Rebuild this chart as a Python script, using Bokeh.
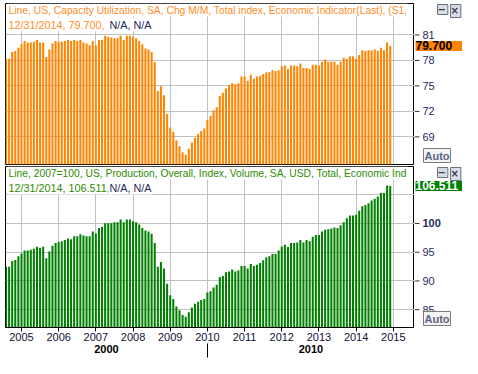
import pandas as pd
from bokeh.plotting import figure
from bokeh.layouts import column, row
from bokeh.models import Range1d, LinearAxis, FixedTicker, Grid, Label
from bokeh.core.properties import value
from bokeh.embed import file_html
from bokeh.resources import INLINE

# ---------------- data ----------------
months = pd.date_range("2004-08-01", "2014-12-01", freq="MS")
x_years = list(months.year + (months.month - 1) / 12.0)

capacity_util = [
    78.2, 78.2, 79.0, 79.1, 79.5,
    79.9, 80.3, 80.1, 80.1, 80.2, 80.4, 80.1, 80.1, 78.4, 79.3, 80.0, 80.3,
    80.2, 80.2, 80.3, 80.4, 80.3, 80.4, 80.3, 80.4, 80.1, 80.0, 79.8, 80.3,
    79.8, 80.4, 80.4, 80.9, 80.8, 80.7, 80.6, 80.6, 80.9, 80.4, 80.9, 80.9,
    80.8, 80.6, 80.3, 79.9, 79.4, 79.3, 79.0, 77.8, 74.4, 74.95, 73.9, 71.7,
    70.1, 69.6, 68.6, 67.9, 67.2, 66.9, 67.6, 68.35, 68.9, 69.35, 69.7, 70.0,
    71.0, 71.5, 72.15, 72.5, 73.8, 74.2, 74.7, 75.1, 75.3, 75.2, 75.3, 76.1,
    76.1, 75.6, 76.3, 75.85, 76.1, 76.2, 76.4, 76.6, 76.6, 76.85, 76.75, 76.85,
    77.3, 77.4, 77.0, 77.4, 77.4, 77.3, 77.65, 77.1, 77.1, 77.0, 77.5, 77.5,
    77.4, 77.85, 78.1, 77.85, 77.85, 77.85, 77.5, 77.85, 78.3, 78.2, 78.5, 78.5,
    78.2, 78.65, 79.2, 79.1, 79.2, 79.2, 79.3, 79.1, 79.5, 79.2, 80.1, 79.7,
]

production = [
    92.47, 92.47, 93.46, 93.62, 94.28,
    94.78, 95.27, 95.27, 95.44, 95.6, 95.93, 95.77, 95.93, 93.95, 95.1, 96.1, 96.6,
    96.75, 96.9, 97.1, 97.4, 97.25, 97.75, 97.75, 98.1, 97.9, 97.75, 97.75, 98.6,
    98.25, 99.2, 99.4, 100.05, 100.05, 100.05, 100.2, 100.2, 100.7, 100.2, 100.7, 100.7,
    100.4, 100.2, 99.8, 99.2, 98.75, 98.6, 98.2, 96.6, 92.47, 93.3, 92.15, 89.5,
    87.5, 86.87, 85.55, 84.9, 84.07, 83.75, 84.56, 85.4, 86.05, 86.4, 86.7, 86.87,
    88.0, 88.2, 88.85, 89.35, 90.7, 90.85, 91.5, 91.65, 92.0, 91.65, 91.8, 92.6,
    92.6, 92.15, 92.95, 92.6, 92.8, 93.1, 93.6, 94.1, 94.3, 94.7, 94.7, 95.3,
    96.0, 96.3, 95.9, 96.6, 96.6, 96.7, 97.1, 96.7, 97.1, 96.9, 97.7, 98.0,
    98.0, 98.6, 98.9, 99.0, 99.1, 99.3, 99.2, 99.7, 100.2, 100.9, 101.4, 101.4,
    101.5, 102.2, 103.0, 103.2, 103.5, 104.0, 104.3, 104.7, 105.3, 105.3, 106.6, 106.511,
]

year_ticks = list(range(2005, 2016))
cap_ticks = [69, 72, 75, 78, 81]
prod_ticks = [85, 90, 95, 100]
prod_grid = [85, 90, 95, 100, 105]
decade_labels = {2007.285: "2000", 2012.785: "2010"}
decade_split = [2010]

cap_title = "Line, US, Capacity Utilization, SA, Chg M/M, Total index, Economic Indicator(Last), (S1,"
cap_sub = "12/31/2014, 79.700, "
prod_title = "Line, 2007=100, US, Production, Overall, Index, Volume, SA, USD, Total, Economic Ind"
prod_sub = "12/31/2014, 106.511, "
na_text = "N/A, N/A"

# ---------------- style ----------------
FONT = "Liberation Sans"
ORANGE = "#FF8400"
ORANGE_TXT = "#FF8C1F"
GREEN = "#008000"
GREEN_TXT = "#2E8B00"
NAVY = "#1F2A5C"
GRID = "#C0C0C0"
MAIN_W = 414
SIDE_W = 48
TOP_H = 165
BOT_H = 193
BOT_AXIS = 31

xr = Range1d(2004.57, 2015.57)


def main_panel(height, yr, grid_ticks, top_b, bottom_b):
    p = figure(width=MAIN_W, height=height, x_range=xr, y_range=yr,
               x_axis_type=None, y_axis_type=None,
               output_backend="svg", toolbar_location=None,
               min_border=0, min_border_left=5, min_border_right=0,
               min_border_top=top_b, min_border_bottom=bottom_b,
               background_fill_color="white", border_fill_color="white",
               outline_line_color="black", outline_line_width=1)
    p.add_layout(Grid(dimension=0, ticker=FixedTicker(ticks=year_ticks),
                      grid_line_color=GRID, grid_line_width=1))
    p.add_layout(Grid(dimension=1, ticker=FixedTicker(ticks=grid_ticks),
                      grid_line_color=GRID, grid_line_width=1))
    return p


def side_panel(height, yr, ticks, bold_ticks, top_b, bottom_b, val, val_text,
               box_color, box_text_color):
    s = figure(width=SIDE_W, height=height, x_range=Range1d(0, SIDE_W), y_range=yr,
               x_axis_type=None, y_axis_type=None,
               output_backend="svg", toolbar_location=None,
               min_border=0, min_border_top=top_b, min_border_bottom=bottom_b,
               background_fill_color="white", border_fill_color="white",
               outline_line_color=None)
    s.segment(x0=0, x1=5, y0=ticks, y1=ticks, line_color="#333333", line_width=1)
    normal = [t for t in ticks if t not in bold_ticks]
    s.text(x=8, y=normal, text=[str(t) for t in normal], text_baseline="middle",
           text_align="left", text_font=value(FONT), text_font_size="11px",
           text_color=NAVY)
    if bold_ticks:
        s.text(x=8, y=bold_ticks, text=[str(t) for t in bold_ticks], text_baseline="middle",
               text_align="left", text_font=value(FONT), text_font_size="11px",
               text_font_style="bold", text_color=NAVY)
    s.add_layout(Label(x=1, y=val, text=val_text,
                       text_baseline="middle", text_align="left",
                       text_font=FONT, text_font_size="12px", text_font_style="bold",
                       text_color=box_text_color, background_fill_color=box_color,
                       padding=(0, 14, 0, 1)))
    s.add_layout(Label(x=9, y=yr.start, y_offset=2, text="Auto",
                       text_baseline="bottom", text_align="left",
                       text_font=FONT, text_font_size="11px", text_font_style="bold",
                       text_color="#5A6482", background_fill_color="#F4F4F4",
                       border_line_color="#7A7A7A", padding=1))
    for xo, sym in ((23, "\u2212"), (36, "\u00d7")):
        s.add_layout(Label(x=xo, y=yr.end, y_offset=-1, text=sym,
                           text_baseline="top", text_align="left",
                           text_font="DejaVu Sans", text_font_size="10px",
                           text_font_style="bold", text_color="#3A3A3A",
                           background_fill_color="#D8DCE4",
                           border_line_color="#6A7080", padding=(0, 2, 0, 2)))
    return s


def titles(p, yr, color, title, sub):
    x0 = xr.start
    p.add_layout(Label(x=x0, y=yr.end, x_offset=2, y_offset=0, text=title,
                       text_baseline="top", text_align="left",
                       text_font=FONT, text_font_size="10.3px", text_color=color,
                       background_fill_color="white", padding=1))
    p.add_layout(Label(x=x0, y=yr.end, x_offset=2, y_offset=-14, text=sub,
                       text_baseline="top", text_align="left",
                       text_font=FONT, text_font_size="10.8px", text_color=color,
                       background_fill_color="white", padding=1))
    p.add_layout(Label(x=x0, y=yr.end, x_offset=103, y_offset=-14, text=na_text,
                       text_baseline="top", text_align="left",
                       text_font=FONT, text_font_size="10.8px", text_color=NAVY,
                       background_fill_color="white", padding=1))


# ---------------- top panel ----------------
yr1 = Range1d(65.75, 84.7)
p1 = main_panel(TOP_H, yr1, cap_ticks, 3, 1)
p1.vbar(x=x_years, top=capacity_util, bottom=yr1.start, width=0.055,
        color=ORANGE, line_color=None)
titles(p1, yr1, ORANGE_TXT, cap_title, cap_sub)
s1 = side_panel(TOP_H, yr1, cap_ticks, [], 3, 1, capacity_util[-1], "79.700",
                ORANGE, "black")

# ---------------- bottom panel ----------------
yr2 = Range1d(81.9, 109.9)
p2 = main_panel(BOT_H, yr2, prod_grid, 1, BOT_AXIS)
p2.vbar(x=x_years, top=production, bottom=yr2.start, width=0.055,
        color=GREEN, line_color=None)
titles(p2, yr2, GREEN_TXT, prod_title, prod_sub)
s2 = side_panel(BOT_H, yr2, prod_ticks, [100], 1, BOT_AXIS, production[-1], "106.511",
                GREEN, "white")

xax = LinearAxis(ticker=FixedTicker(ticks=year_ticks),
                 axis_line_color="black", major_tick_line_color="black",
                 major_tick_out=4, major_tick_in=0, minor_tick_out=0,
                 major_label_standoff=1,
                 major_label_text_font=FONT, major_label_text_font_size="11px",
                 major_label_text_color="#111133",
                 major_label_overrides={t: str(t) for t in year_ticks})
p2.add_layout(xax, "below")

dax = LinearAxis(ticker=FixedTicker(ticks=list(decade_labels.keys()), minor_ticks=decade_split),
                 axis_line_color=None, major_tick_out=0, major_tick_in=0,
                 minor_tick_out=14, minor_tick_in=0, minor_tick_line_color="black",
                 major_label_standoff=-13,
                 major_label_text_font=FONT, major_label_text_font_size="11px",
                 major_label_text_font_style="bold", major_label_text_color="black",
                 major_label_overrides=decade_labels)
p2.add_layout(dax, "below")

layout = column(row(p1, s1, spacing=0), row(p2, s2, spacing=0), spacing=0)
open("out.html", "w").write(file_html(layout, INLINE))
